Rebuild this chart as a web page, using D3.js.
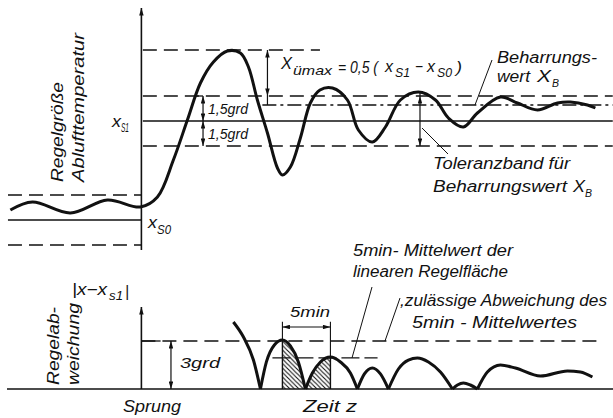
<html>
<head>
	<title>Regelgröße / Regelabweichung</title>
	<script src="https://d3js.org/d3.v7.min.js"></script>
	<style type="text/css">
		body {
			margin: 0;
			padding: 0;
			background: #fff;
		}
		#chart {
			margin: 0;
			padding: 0;
		}
		.lbl {
			font-family: "Liberation Sans", Arial, sans-serif;
			font-style: italic;
			fill: #111;
		}
	</style>
</head>
<body>

<div id="chart"></div>

<script>

// time in min after the step, values in grd relative to x_s1
var stepTime  = [-13.65,-11.35,-7.4,-3.54,-0.1,1.67,3.33,4.79,6.15,7.5,8.96,10.31,11.15,12.08,13.13,14.17,14.69,15.52,16.56,17.6,18.6,19.9,21.46,22.6,24.06,25.42,26.98,28.85,30.63,31.98,33.54,35.0,37.4,39.17,41.25,43.33,44.69,46.46,47.29];
var stepValue = [-5.34,-4.86,-5.52,-4.74,-5.16,-4.56,-2.34,0.06,2.28,3.54,4.2,4.08,3.24,1.26,-0.72,-2.82,-3.24,-2.76,-1.02,1.08,1.86,1.98,1.26,-0.54,-1.26,-0.36,1.26,1.74,1.26,0.18,-0.36,0.48,1.44,1.08,0.66,1.08,1.14,0.96,0.78];

// |x - x_s1|, one arch per half wave (null = new arch)
var devTime  = [9.58,10.63,11.67,12.40,null,
	12.40,13.02,13.85,14.69,15.52,16.35,17.08,null,
	17.08,17.81,18.65,19.69,20.73,21.77,22.50,null,
	22.50,23.23,24.06,24.90,25.73,null,
	25.73,26.77,27.81,28.75,29.90,31.15,32.40,null,
	32.40,32.92,33.54,34.27,35.00,null,
	35.00,36.04,37.40,38.96,41.56,44.38,45.73,46.98];
var devValue = [4.19,3.25,1.81,0,null,
	0,1.69,2.75,3.06,2.69,1.69,0,null,
	0,1.0,1.69,2.0,1.69,1.0,0,null,
	0,0.94,1.31,0.94,0,null,
	0,1.25,1.81,1.94,1.69,1.06,0,null,
	0,0.25,0.38,0.25,0,null,
	0,1.06,1.5,1.31,0.81,1.13,1.06,0.75];

var xs0 = -5.94;          // old set point
var tolBand = [1.5, -1.5]; // +-1,5 grd
var steadyValue = 0.96;   // Beharrungswert X_B
var overshootTop = 4.26;  // X_ümax level
var devLimit = 3;         // 3 grd
var meanLevel = 1.94;     // 5min mean of linear area
var windowStart = 14.69, windowLen = 5;

var W = 613, H = 418;

var x = d3.scaleLinear().domain([-14, 49.125]).range([7, 613]);
var yTop = d3.scaleLinear().domain([-6, 6]).range([221, 21]);
var yBot = d3.scaleLinear().domain([0, 3]).range([389, 341]);

var svg = d3.select("#chart").append("svg")
	.attr("width", W)
	.attr("height", H);

var defs = svg.append("defs");
defs.append("marker")
	.attr("id", "arr")
	.attr("viewBox", "0 0 10 6")
	.attr("refX", 10).attr("refY", 3)
	.attr("markerWidth", 9).attr("markerHeight", 4.5)
	.attr("markerUnits", "userSpaceOnUse")
	.attr("orient", "auto-start-reverse")
	.append("path").attr("d", "M0,0L10,3L0,6Z").attr("fill", "#111");

defs.append("pattern")
	.attr("id", "hatch")
	.attr("patternUnits", "userSpaceOnUse")
	.attr("width", 4.5).attr("height", 4.5)
	.append("path")
	.attr("d", "M-1,-1L5.5,5.5M-1,3.5L1,5.5M3.5,-1L5.5,1")
	.attr("stroke", "#111").attr("stroke-width", 1.1);

defs.append("clipPath").attr("id", "win")
	.append("rect")
	.attr("x", x(windowStart)).attr("y", 300)
	.attr("width", x(windowStart + windowLen) - x(windowStart))
	.attr("height", 90);

function seg(x1, y1, x2, y2, dash, w) {
	var l = svg.append("line")
		.attr("x1", x1).attr("y1", y1).attr("x2", x2).attr("y2", y2)
		.attr("stroke", "#111")
		.attr("stroke-width", w || 1.3);
	if (dash) l.attr("stroke-dasharray", dash);
	return l;
}
function dimArrow(x1, y1, x2, y2) {
	return seg(x1, y1, x2, y2, null, 1.2)
		.attr("marker-start", "url(#arr)")
		.attr("marker-end", "url(#arr)");
}
function label(px, py, s, size, len, rot) {
	var t = svg.append("text").attr("class", "lbl")
		.style("font-size", size + "px")
		.text(s);
	if (rot) t.attr("transform", "translate(" + px + "," + py + ") rotate(-90)");
	else t.attr("x", px).attr("y", py);
	if (len) t.attr("textLength", len).attr("lengthAdjust", "spacingAndGlyphs");
	return t;
}

var DASH = "14,7", DASHDOT = "14,4,3,4";

// ---------- upper panel: Regelgröße ----------
// reference levels before the step
seg(x(-13.9), yTop(xs0 + 1.5), x(0), yTop(xs0 + 1.5), DASH);
seg(x(-13.9), yTop(xs0), x(0), yTop(xs0));
seg(x(-13.9), yTop(xs0 - 1.5), x(0), yTop(xs0 - 1.5), DASH);
// after the step
seg(x(0.15), yTop(overshootTop), x(18.6), yTop(overshootTop), DASH);
seg(x(0.15), yTop(tolBand[0]), x(49.1), yTop(tolBand[0]), DASH);
seg(x(12.6), yTop(steadyValue), x(49.1), yTop(steadyValue), DASHDOT);
seg(x(0.15), yTop(0), x(49.1), yTop(0));
seg(x(0.15), yTop(tolBand[1]), x(49.1), yTop(tolBand[1]), DASH);

// axis
seg(x(0), yTop(-7.74), x(0), yTop(6.78), null, 1.6).attr("marker-end", "url(#arr)");

var stepPts = stepTime.map(function(t, i) { return [t, stepValue[i]]; });
svg.append("path")
	.datum(stepPts)
	.attr("d", d3.line()
		.x(function(d) { return x(d[0]); })
		.y(function(d) { return yTop(d[1]); })
		.curve(d3.curveCatmullRom.alpha(0.5)))
	.attr("fill", "none")
	.attr("stroke", "#111")
	.attr("stroke-width", 3)
	.attr("stroke-linejoin", "round");

// X_ümax dimension
dimArrow(x(13.13), yTop(overshootTop), x(13.13), yTop(tolBand[0]));
seg(x(13.13), yTop(tolBand[0]), x(13.13), yTop(steadyValue), null, 1.2);
// 1,5 grd dimensions
seg(x(5.5), yTop(tolBand[0]), x(6.42), yTop(tolBand[0]), null, 1.3);
dimArrow(x(6.42), yTop(tolBand[0]), x(6.42), yTop(0));
dimArrow(x(6.42), yTop(0), x(6.42), yTop(tolBand[1]));
// tolerance band for X_B
seg(x(29.02), yTop(1.74), x(29.02), yTop(tolBand[0]), null, 1.2);
dimArrow(x(29.02), yTop(tolBand[0]), x(29.02), yTop(tolBand[1]));

// leader lines
seg(492, 60, 475, yTop(steadyValue), null, 1);
seg(422, 128, 448, 154, null, 1);

// labels
label(63, 182, "Regelgröße", 17, 100, true);
label(84, 182, "Ablufttemperatur", 17, 149, true);
label(112, 127, "x", 17, 9);
label(121, 132, "S1", 12, 8);
label(148, 228, "x", 17, 9);
label(157, 234, "S0", 12, 14);
label(208, 114, "1,5grd", 14, 40);
label(208, 139, "1,5grd", 14, 40);

label(281, 69, "X", 17, 11);
label(293, 75, "ümax", 13, 39);
label(338, 73, "= 0,5 (", 16, 40);
label(385, 72, "x", 16, 8);
label(395, 77, "S1", 12, 15);
label(415, 72, "−", 16, 8);
label(427, 72, "x", 16, 8);
label(437, 77, "S0", 12, 15);
label(456, 73, ")", 16, 6);

label(497, 63, "Beharrungs-", 16, 100);
label(497, 82, "wert", 16, 33);
label(537, 82, "X", 16, 14);
label(552, 87, "B", 11, 7);

label(433, 169, "Toleranzband für", 16, 137);
label(433, 192, "Beharrungswert", 16, 134);
label(573, 192, "X", 16, 12);
label(585, 197, "B", 11, 7);

// ---------- lower panel: Regelabweichung ----------
seg(7, yBot(0), 613, yBot(0), null, 1.6);
seg(x(0), yBot(devLimit), x(48), yBot(devLimit), DASH);
seg(x(0), yBot(devLimit), x(2), yBot(devLimit), null, 1.3);
seg(x(13.65), yBot(meanLevel), x(24.6), yBot(meanLevel), "18,5", 1.2);
seg(x(0), yBot(0), x(0), yBot(5.125), null, 1.6).attr("marker-end", "url(#arr)");

var pts = devTime.map(function(t, i) { return t === null ? null : [t, devValue[i]]; });
var arcs = [], cur = [];
pts.forEach(function(p) {
	if (p === null) { arcs.push(cur); cur = []; }
	else cur.push(p);
});
arcs.push(cur);

var devLine = d3.line()
	.x(function(d) { return x(d[0]); })
	.y(function(d) { return yBot(d[1]); })
	.curve(d3.curveMonotoneX);
var devArea = d3.area()
	.x(function(d) { return x(d[0]); })
	.y0(yBot(0))
	.y1(function(d) { return yBot(d[1]); })
	.curve(d3.curveMonotoneX);

// hatched 5 min window
svg.append("g").attr("clip-path", "url(#win)")
	.selectAll("path").data(arcs).enter().append("path")
	.attr("d", devArea)
	.attr("fill", "url(#hatch)");

function valueAt(t) {
	var best = null;
	stepPts; // keep lookup on deviation data
	pts.forEach(function(p) {
		if (p && (best === null || Math.abs(p[0] - t) < Math.abs(best[0] - t))) best = p;
	});
	return best[1];
}
var vA = valueAt(windowStart), vB = valueAt(windowStart + windowLen);
seg(x(windowStart), yBot(0), x(windowStart), yBot(vA), null, 1.4);
seg(x(windowStart + windowLen), yBot(0), x(windowStart + windowLen), yBot(vB), null, 1.4);
// 5 min dimension
seg(x(windowStart), yBot(vA), x(windowStart), yBot(4.2), null, 1.1);
seg(x(windowStart + windowLen), yBot(vB), x(windowStart + windowLen), yBot(4.2), null, 1.1);
dimArrow(x(windowStart), yBot(3.875), x(windowStart + windowLen), yBot(3.875));

svg.append("g").selectAll("path").data(arcs).enter().append("path")
	.attr("d", devLine)
	.attr("fill", "none")
	.attr("stroke", "#111")
	.attr("stroke-width", 3)
	.attr("stroke-linejoin", "round");

// 3 grd dimension
dimArrow(x(3.08), yBot(devLimit), x(3.08), yBot(0));

// leader lines
seg(372, 287, 352, yBot(meanLevel), null, 1);
seg(400, 298, 385, yBot(devLimit), null, 1);

label(59, 385, "Regelab-", 16, 78, true);
label(79, 385, "weichung", 16, 82, true);
label(72, 295, "|x−x", 16, 35);
label(109, 300, "s1", 13, 14);
label(125, 297, "|", 16, 4);
label(180, 368, "3grd", 15, 40);
label(290, 317, "5min", 15, 40);
label(123, 412, "Sprung", 17, 58);
label(303, 412, "Zeit z", 17, 54);
label(353, 256, "5min- Mittelwert der", 16, 160);
label(353, 277, "linearen Regelfläche", 16, 155);
label(400, 306, ",zulässige Abweichung des", 16, 207);
label(412, 328, "5min - Mittelwertes", 16, 165);

</script>
</body>
</html>
